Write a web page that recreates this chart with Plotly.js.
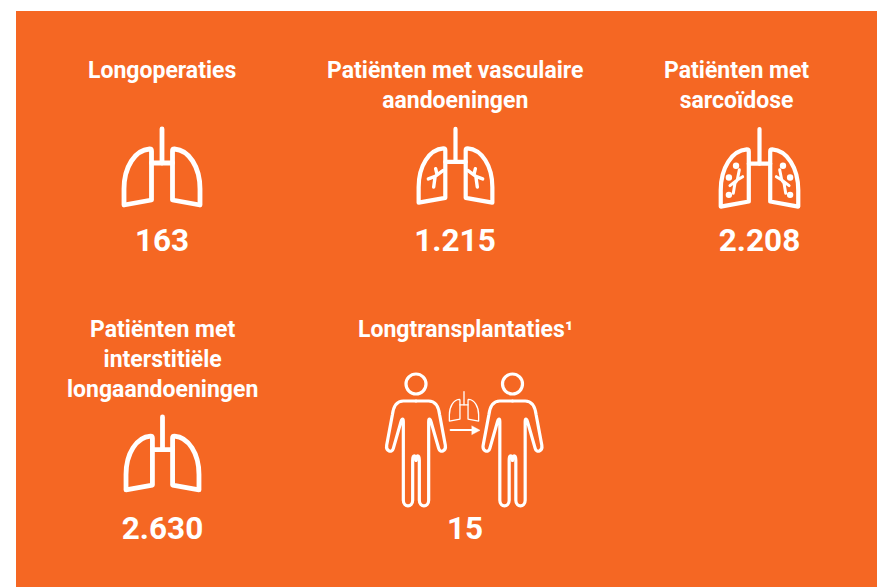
<!DOCTYPE html>
<html><head><meta charset="utf-8">
<script src="https://cdn.plot.ly/plotly-3.0.1.min.js"></script>
<style>html,body{margin:0;padding:0;background:#fff}#c{width:877px;height:587px}
.shapelayer path{stroke-linejoin:round !important;stroke-linecap:round !important}</style></head>
<body><div id="c"></div>
<script>
const categories = [
  'Longoperaties',
  'Patiënten met vasculaire<br>aandoeningen',
  'Patiënten met<br>sarcoïdose',
  'Patiënten met<br>interstitiële<br>longaandoeningen',
  'Longtransplantaties¹'
];
const values = [163, 1215, 2208, 2630, 15];

const ORANGE = '#f56723', WHITE = '#ffffff', FONT = 'Roboto, sans-serif';
const titleX = [162, 455, 736, 162, 465];
const titleY = [56, 56, 56, 315, 315];
const valueX = [162, 455, 759.5, 162.5, 465];
const valueY = [243, 243, 243, 531, 531];

const fmt = v => String(v).replace(/\B(?=(\d{3})+$)/g, '.');

function path(cmds, cx, top, s, m) {
  return cmds.map(c => c[0] + c.slice(1).map((n, i) =>
    (i % 2 ? top + n * s : cx + m * n * s).toFixed(2)).join(' ') +' ').join('');
}
const line = (d, w, fill) => ({type:'path', path:d, xref:'x', yref:'y', layer:'above',
  line:{color:WHITE, width:w}, fillcolor: fill || 'rgba(0,0,0,0)'});

const lobe = [['M',10.5,24],['C',10.5,22,10.5,22,12.5,22],['C',27,23,38,40,38,62],['L',38,78],['L',10.5,73],['Z']];
const windpipe = [['M',0,2],['L',0,36]];
const carina = [['M',-10.5,36],['L',10.5,36]];
const tree = [['M',13,45],['L',21,51],['L',28,53.5],['M',21,51],['L',22.5,62],['M',20.5,43],['L',19,49]];
const treeB = [['M',16.5,48.7],['L',21.8,52],['L',29,57.5],['M',19.8,42],['L',21.8,52],['L',24,55],['L',25.7,65]];
const dots = [[23,38],[30,49.5],[30,66.5]];

function lungs(cx, top, s, w) {
  const out = [];
  [1,-1].forEach(m => out.push(line(path(lobe, cx, top, s, m), w)));
  out.push(line(path(windpipe, cx, top, s, 1), w));
  out.push(line(path(carina, cx, top, s, 1), w));
  return out;
}
function branches(cx, top, s, w, t) {
  return [1,-1].map(m => line(path(t, cx, top, s, m), w));
}
function dotset(cx, top, s, r) {
  const out = [];
  [1,-1].forEach(m => dots.forEach(d => {
    const x = cx + m*d[0]*s, y = top + d[1]*s;
    out.push({type:'circle', xref:'x', yref:'y', x0:x-r, x1:x+r, y0:y-r, y1:y+r,
      fillcolor:WHITE, line:{width:0}, layer:'above'});
  }));
  return out;
}
const person = [['M',0,0],['L',-38,0],['C',-60,0,-68,18,-71,42],['L',-88,133],
  ['C',-91,150,-72,158,-68,142],['L',-45,62],['C',-42,52,-38,52,-38,62],['L',-38,298],
  ['C',-38,320,-10,320,-10,298],['L',-10,178],['C',-10,160,0,160,0,178]];
function human(cx, top, w) {
  const s = 1/3, out = [];
  [1,-1].forEach(m => out.push(line(path(person, cx, top, s, m), w)));
  out.push({type:'circle', xref:'x', yref:'y', x0:cx-10, x1:cx+10, y0:top-27, y1:top-7,
    line:{color:WHITE, width:w}, fillcolor:'rgba(0,0,0,0)', layer:'above'});
  return out;
}

const shapes = [
  {type:'rect', xref:'x', yref:'y', x0:16, x1:877, y0:11, y1:587, fillcolor:ORANGE, line:{width:0}, layer:'below'},
  ...lungs(162, 127, 1, 4.8),
  ...lungs(455.5, 127, 0.97, 4.2), ...branches(455.5, 127, 0.97, 3.4, tree),
  ...lungs(759.5, 127, 1.02, 4.2), ...branches(759.5, 127, 1.02, 3, treeB), ...dotset(759.5, 127, 1.02, 3.2),
  ...lungs(162.5, 415, 0.96, 4.8),
  ...human(416, 401, 3.2), ...human(512.5, 401, 3.2),
  ...lungs(464, 391, 0.385, 1.3),
  line('M 450.7 430 L 474 430', 2.2),
  line('M 472 426 L 480 430.3 L 472 434.5 Z', 0.5, WHITE)
];

const annotations = categories.map((t, i) => ({
  text:t, x:titleX[i], y:titleY[i], xref:'x', yref:'y', xanchor:'center', yanchor:'top',
  showarrow:false, align:'center', font:{family:FONT, size:23, color:WHITE, weight:700}, borderpad:0
}));

const data = [{
  type:'scatter', mode:'text', x:valueX, y:valueY, text:values.map(fmt),
  textposition:'middle center', hoverinfo:'skip', cliponaxis:false,
  textfont:{family:FONT, size:31.5, color:WHITE, weight:700}
}];

const ax = {range:[0,877], visible:false, fixedrange:true};
Plotly.newPlot('c', data, {
  width:877, height:587, margin:{l:0,r:0,t:0,b:0}, showlegend:false,
  paper_bgcolor:WHITE, plot_bgcolor:WHITE,
  xaxis:ax, yaxis:{range:[587,0], visible:false, fixedrange:true},
  shapes, annotations
}, {displayModeBar:false, staticPlot:true});
</script></body></html>
